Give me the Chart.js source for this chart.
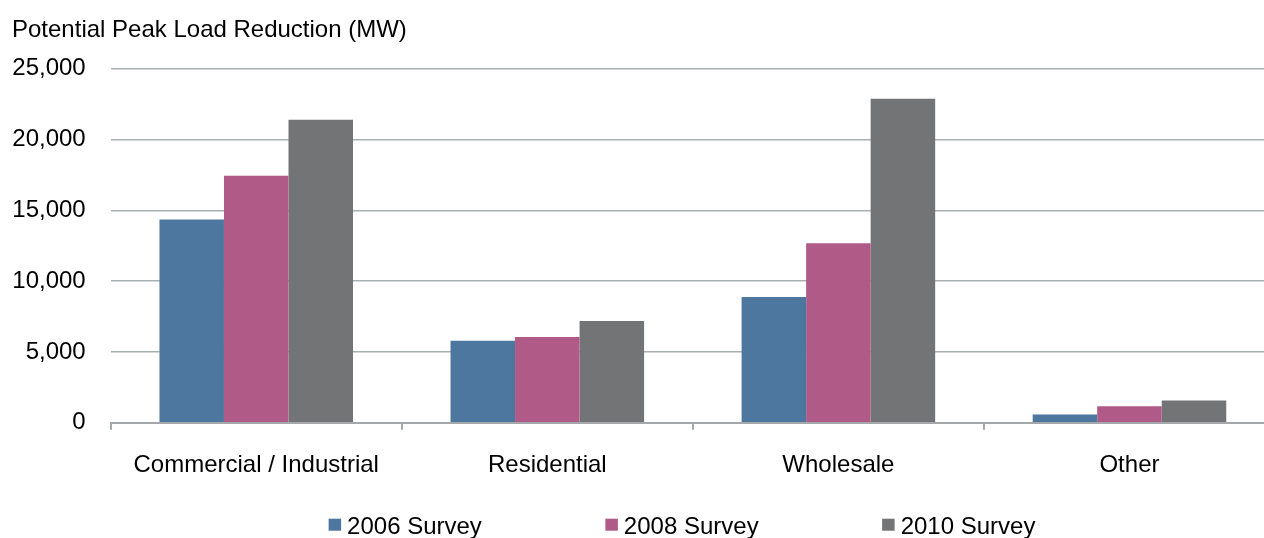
<!DOCTYPE html>
<html>
<head>
<meta charset="utf-8">
<script src="https://cdn.jsdelivr.net/npm/chart.js@4.4.1/dist/chart.umd.min.js"></script>
<style>
  html, body { margin: 0; padding: 0; background: #fff; overflow: hidden; }
  #wrap { position: relative; width: 1360px; height: 538px; }
</style>
</head>
<body>
<div id="wrap"><canvas id="peakChart"></canvas></div>
<script>
// chart data
var categories = ["Commercial / Industrial", "Residential", "Wholesale", "Other"];
var survey2006 = [14350, 5790, 8880, 580];
var survey2008 = [17440, 6050, 12680, 1170];
var survey2010 = [21400, 7180, 22890, 1570];
var seriesNames = ["2006 Survey", "2008 Survey", "2010 Survey"];
var seriesColors = ["#4e77a0", "#b05a87", "#737476"];
var yTicks = [0, 5000, 10000, 15000, 20000, 25000];

var FONT = "'Liberation Sans', Arial, sans-serif";
var FONT_SIZE = 24;

// legend drawn under the axis, boxes close to the text
var bottomLegend = {
  id: "bottomLegend",
  afterDraw: function (chart) {
    var ctx = chart.ctx;
    var sets = chart.data.datasets;
    var boxW = 12.5, boxH = 12, gap = 6, spacing = 123.5;
    ctx.save();
    ctx.font = FONT_SIZE + "px " + FONT;
    var widths = sets.map(function (d) { return boxW + gap + ctx.measureText(d.label).width; });
    var total = widths.reduce(function (a, b) { return a + b; }, 0) + spacing * (sets.length - 1);
    var x = chart.width / 2 - total / 2 + 2;
    var cy = 525;
    ctx.textBaseline = "middle";
    ctx.textAlign = "left";
    sets.forEach(function (d, i) {
      ctx.fillStyle = d.backgroundColor;
      ctx.fillRect(x, cy - 6.3, boxW, boxH);
      ctx.fillStyle = "#000";
      ctx.fillText(d.label, x + boxW + gap, cy + 2);
      x += widths[i] + spacing;
    });
    ctx.restore();
  }
};

var ctx = document.getElementById("peakChart").getContext("2d");
new Chart(ctx, {
  type: "bar",
  data: {
    labels: categories,
    datasets: [
      { label: seriesNames[0], data: survey2006, backgroundColor: seriesColors[0] },
      { label: seriesNames[1], data: survey2008, backgroundColor: seriesColors[1] },
      { label: seriesNames[2], data: survey2010, backgroundColor: seriesColors[2] }
    ]
  },
  options: {
    responsive: true,
    maintainAspectRatio: false,
    devicePixelRatio: 1,
    animation: false,
    datasets: { bar: { categoryPercentage: 0.665, barPercentage: 1.0, borderWidth: 0 } },
    layout: { padding: { left: 12, right: 85, top: 0, bottom: 37.5 } },
    plugins: {
      legend: { display: false },
      tooltip: { enabled: false },
      title: {
        display: true,
        text: "Potential Peak Load Reduction (MW)",
        align: "start",
        color: "#000",
        font: { family: FONT, size: FONT_SIZE, weight: "normal" },
        padding: { top: 16, bottom: 24 }
      }
    },
    scales: {
      x: {
        offset: true,
        border: { display: true, color: "#a4a8aa", width: 2 },
        grid: { display: true, drawOnChartArea: false, drawTicks: true, tickLength: 7, color: "#a4a8aa", lineWidth: 2 },
        ticks: { color: "#000", padding: 21, font: { family: FONT, size: FONT_SIZE } }
      },
      y: {
        min: 0,
        max: 25000,
        afterFit: function (scale) { scale.width = 98.7; },
        afterBuildTicks: function (scale) { scale.ticks = yTicks.map(function (v) { return { value: v }; }); },
        border: { display: false },
        grid: { color: "#a8b0b2", lineWidth: 1.5, drawTicks: false },
        ticks: {
          color: "#000",
          padding: 25,
          font: { family: FONT, size: FONT_SIZE },
          callback: function (v) { return Number(v).toLocaleString("en-US"); }
        }
      }
    }
  },
  plugins: [bottomLegend]
});
</script>
</body>
</html>
